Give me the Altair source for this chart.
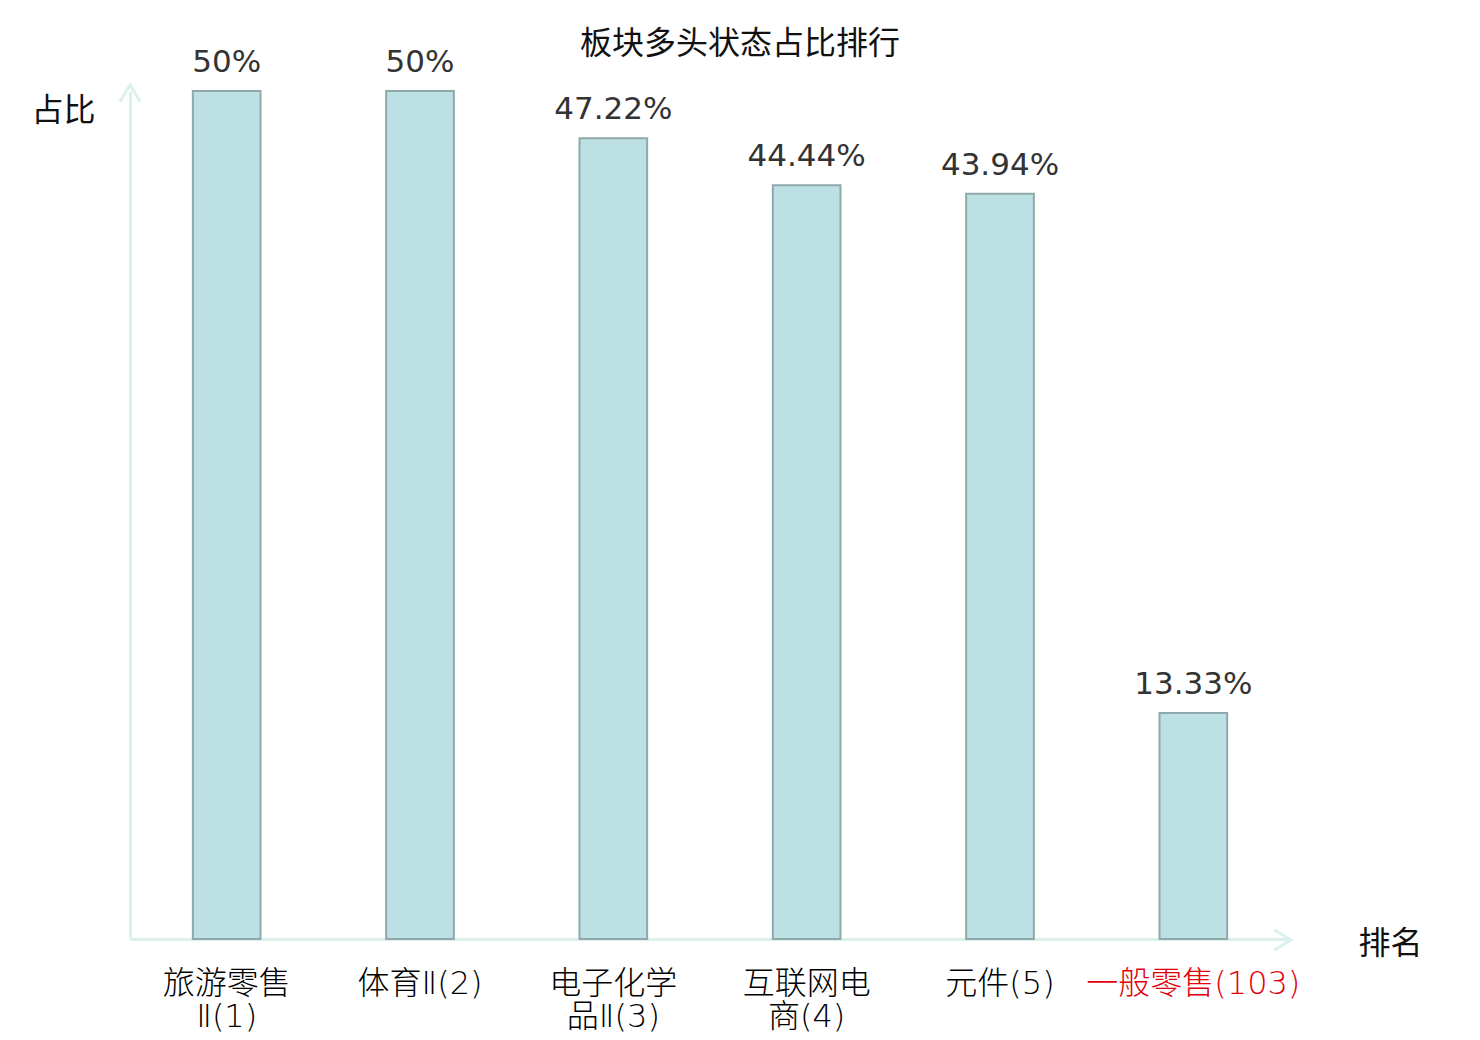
import altair as alt
import pandas as pd

categories = ["旅游零售|Ⅱ(1)", "体育Ⅱ(2)", "电子化学|品Ⅱ(3)", "互联网电|商(4)", "元件(5)", "一般零售(103)"]
values = [50, 50, 47.22, 44.44, 43.94, 13.33]
value_labels = ["50%", "50%", "47.22%", "44.44%", "43.94%", "13.33%"]

df = pd.DataFrame({"cat": categories, "val": values, "lab": value_labels})

MINT = "#dcf1ee"
CJK = "Noto Sans CJK SC"
LABEL_FONT = "'DejaVu Sans', 'Noto Sans CJK SC'"

x_enc = alt.X(
    "cat:N", sort=categories,
    scale=alt.Scale(paddingInner=0.65, paddingOuter=0.325),
    axis=alt.Axis(
        title="排名", titleAngle=0, titleX=1260, titleY=4, titleAlign="center",
        titleBaseline="middle", titleFont=CJK, titleFontSize=32, titleFontWeight="normal",
        titleColor="#111",
        domainColor=MINT, domainWidth=3, ticks=False, grid=False,
        labelExpr="split(datum.value, '|')", labelAngle=0, labelLimit=0,
        labelFont=LABEL_FONT, labelFontSize=32, labelFontWeight=200,
        labelLineHeight=33, labelPadding=29,
        labelBaseline="top",
        labelColor=alt.ExprRef("indexof(datum.value, '103') >= 0 ? '#e3000b' : '#000'"),
    ),
)
y_enc = alt.Y(
    "val:Q", scale=alt.Scale(domain=[0, 50], nice=False),
    axis=alt.Axis(
        title="占比", titleAngle=0, titleX=-67, titleY=19, titleAlign="center",
        titleBaseline="middle", titleFont=CJK, titleFontSize=32, titleFontWeight="normal",
        titleColor="#111",
        domainColor=MINT, domainWidth=3, ticks=False, labels=False, grid=False,
    ),
)

bars = alt.Chart(df).mark_bar(
    fill="#bce0e3", stroke="#8fa9ab", strokeWidth=2
).encode(x=x_enc, y=y_enc)

texts = alt.Chart(df).mark_text(
    font="DejaVu Sans", fontSize=31, color="#333", baseline="alphabetic", dy=-19
).encode(x=alt.X("cat:N", sort=categories), y="val:Q", text="lab:N")

arrow_df = pd.DataFrame({"k": [1]})
y_arrow = alt.Chart(arrow_df).mark_point(
    shape="M-0.6,1L0,0L0.6,1", filled=False, stroke=MINT, strokeWidth=3, size=1156, opacity=1
).encode(x=alt.value(0), y=alt.value(-6))
x_arrow = alt.Chart(arrow_df).mark_point(
    shape="M-1,-0.6L0,0L-1,0.6", filled=False, stroke=MINT, strokeWidth=3, size=1156, opacity=1
).encode(x=alt.value(1161), y=alt.value(849))

chart = alt.layer(bars, texts, y_arrow, x_arrow).properties(
    width=1160, height=848,
    autosize=alt.AutoSizeParams(type="none"),
    padding={"left": 122, "top": 83, "right": 150, "bottom": 100},
    title=alt.TitleParams(
        "板块多头状态占比排行", font=CJK, fontSize=32, fontWeight="normal", color="#111",
        anchor="middle", frame="group", dx=30, dy=45, offset=31,
    ),
).configure_view(stroke=None)

chart.save("out.html", embed_options={"renderer": "svg", "actions": False})
